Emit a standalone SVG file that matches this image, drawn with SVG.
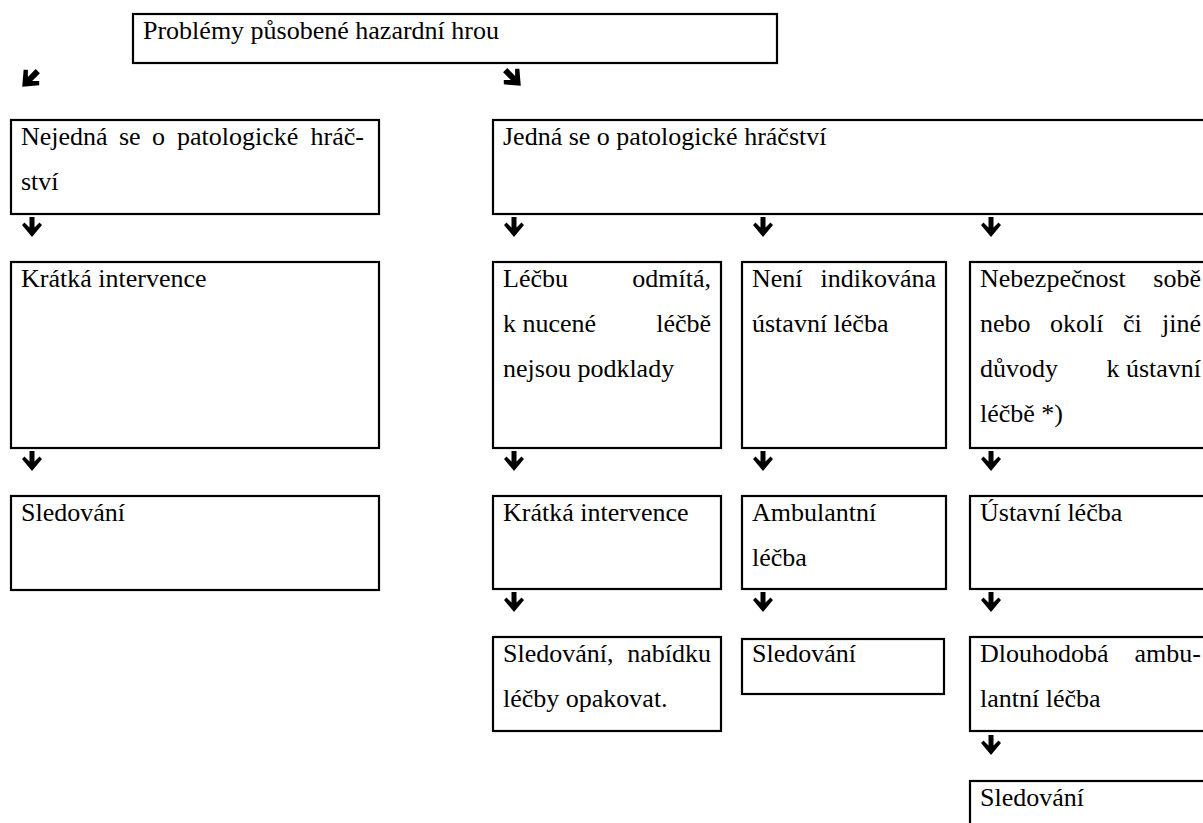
<svg xmlns="http://www.w3.org/2000/svg" xmlns:xlink="http://www.w3.org/1999/xlink" width="1203" height="823" viewBox="0 0 1203 823">
<style>
rect.b{fill:#fff;stroke:#000;stroke-width:2.2}
text{font-family:"Liberation Serif","Times New Roman",serif;font-size:26px;fill:#000}
text.e{text-anchor:end}
.arr{fill:#000}
</style>
<defs>
<path id="arr" d="M -2.5 -10 H 2.5 V 0.5 L 7.5 -4.5 L 10 -2 L 0 10 L -10 -2 L -7.5 -4.5 L -2.5 0.5 Z"/>
<path id="darr" d="M -3 -11 H 3 V 0 L 8 -5 L 11 -2 L 0 11 L -11 -2 L -8 -5 L -3 0 Z"/>
</defs>
<rect width="1203" height="823" fill="#fff"/>
<g id="connectors" class="arr">
<use xlink:href="#darr" transform="translate(30,79) rotate(45)"/>
<use xlink:href="#darr" transform="translate(513,78) rotate(-45)"/>
<use xlink:href="#arr" transform="translate(32,227)"/>
<use xlink:href="#arr" transform="translate(32,461)"/>
<use xlink:href="#arr" transform="translate(514,227)"/>
<use xlink:href="#arr" transform="translate(763,227)"/>
<use xlink:href="#arr" transform="translate(991,227)"/>
<use xlink:href="#arr" transform="translate(514,461)"/>
<use xlink:href="#arr" transform="translate(763,461)"/>
<use xlink:href="#arr" transform="translate(991,461)"/>
<use xlink:href="#arr" transform="translate(514,602)"/>
<use xlink:href="#arr" transform="translate(763,602)"/>
<use xlink:href="#arr" transform="translate(991,602)"/>
<use xlink:href="#arr" transform="translate(991,745)"/>
</g>
<g id="n-title"><rect class="b" x="133" y="14" width="644" height="49"/><text x="143" y="39">Problémy působené hazardní hrou</text></g>
<g id="n-nejedna"><rect class="b" x="11" y="120" width="368" height="94"/>
<text x="21" y="145">Nejedná</text><text x="119" y="145">se</text><text x="152" y="145">o</text><text x="177" y="145">patologické</text><text class="e" x="364" y="145">hráč-</text>
<text x="21" y="190">ství</text></g>
<g id="n-jedna"><rect class="b" x="493" y="120" width="725" height="94"/><text x="503" y="145">Jedná se o patologické hráčství</text></g>
<g id="n-kratka-l"><rect class="b" x="11" y="262" width="368" height="186"/><text x="21" y="287">Krátká intervence</text></g>
<g id="n-sled-l"><rect class="b" x="11" y="496" width="368" height="94"/><text x="21" y="521">Sledování</text></g>
<g id="n-lecbu"><rect class="b" x="493" y="262" width="228" height="186"/>
<text x="503" y="287">Léčbu</text><text class="e" x="711" y="287">odmítá,</text>
<text x="503" y="332">k nucené</text><text class="e" x="711" y="332">léčbě</text>
<text x="503" y="377">nejsou podklady</text></g>
<g id="n-neni"><rect class="b" x="742" y="262" width="204" height="186"/>
<text x="752" y="287">Není</text><text class="e" x="936" y="287">indikována</text>
<text x="752" y="332">ústavní léčba</text></g>
<g id="n-neb"><rect class="b" x="970" y="262" width="250" height="186"/>
<text x="980" y="287">Nebezpečnost</text><text class="e" x="1201" y="287">sobě</text>
<text x="980" y="332">nebo</text><text x="1050" y="332">okolí</text><text x="1123" y="332">či</text><text class="e" x="1201" y="332">jiné</text>
<text x="980" y="377">důvody</text><text class="e" x="1201" y="377">k ústavní</text>
<text x="980" y="422">léčbě *)</text></g>
<g id="n-kratka-r"><rect class="b" x="493" y="496" width="228" height="93"/><text x="503" y="521">Krátká intervence</text></g>
<g id="n-ambul"><rect class="b" x="742" y="496" width="204" height="93"/><text x="752" y="521">Ambulantní</text><text x="752" y="566">léčba</text></g>
<g id="n-ustavni"><rect class="b" x="970" y="496" width="250" height="93"/><text x="980" y="521">Ústavní léčba</text></g>
<g id="n-sled-nab"><rect class="b" x="493" y="637" width="228" height="94"/>
<text x="503" y="662">Sledování,</text><text class="e" x="711" y="662">nabídku</text>
<text x="503" y="707">léčby opakovat.</text></g>
<g id="n-sled-mid"><rect class="b" x="742" y="639" width="202" height="55"/><text x="752" y="662">Sledování</text></g>
<g id="n-dlouh"><rect class="b" x="970" y="637" width="250" height="94"/>
<text x="980" y="662">Dlouhodobá</text><text class="e" x="1201" y="662">ambu-</text>
<text x="980" y="707">lantní léčba</text></g>
<g id="n-sled-last"><rect class="b" x="970" y="781" width="250" height="60"/><text x="980" y="806">Sledování</text></g>
</svg>
